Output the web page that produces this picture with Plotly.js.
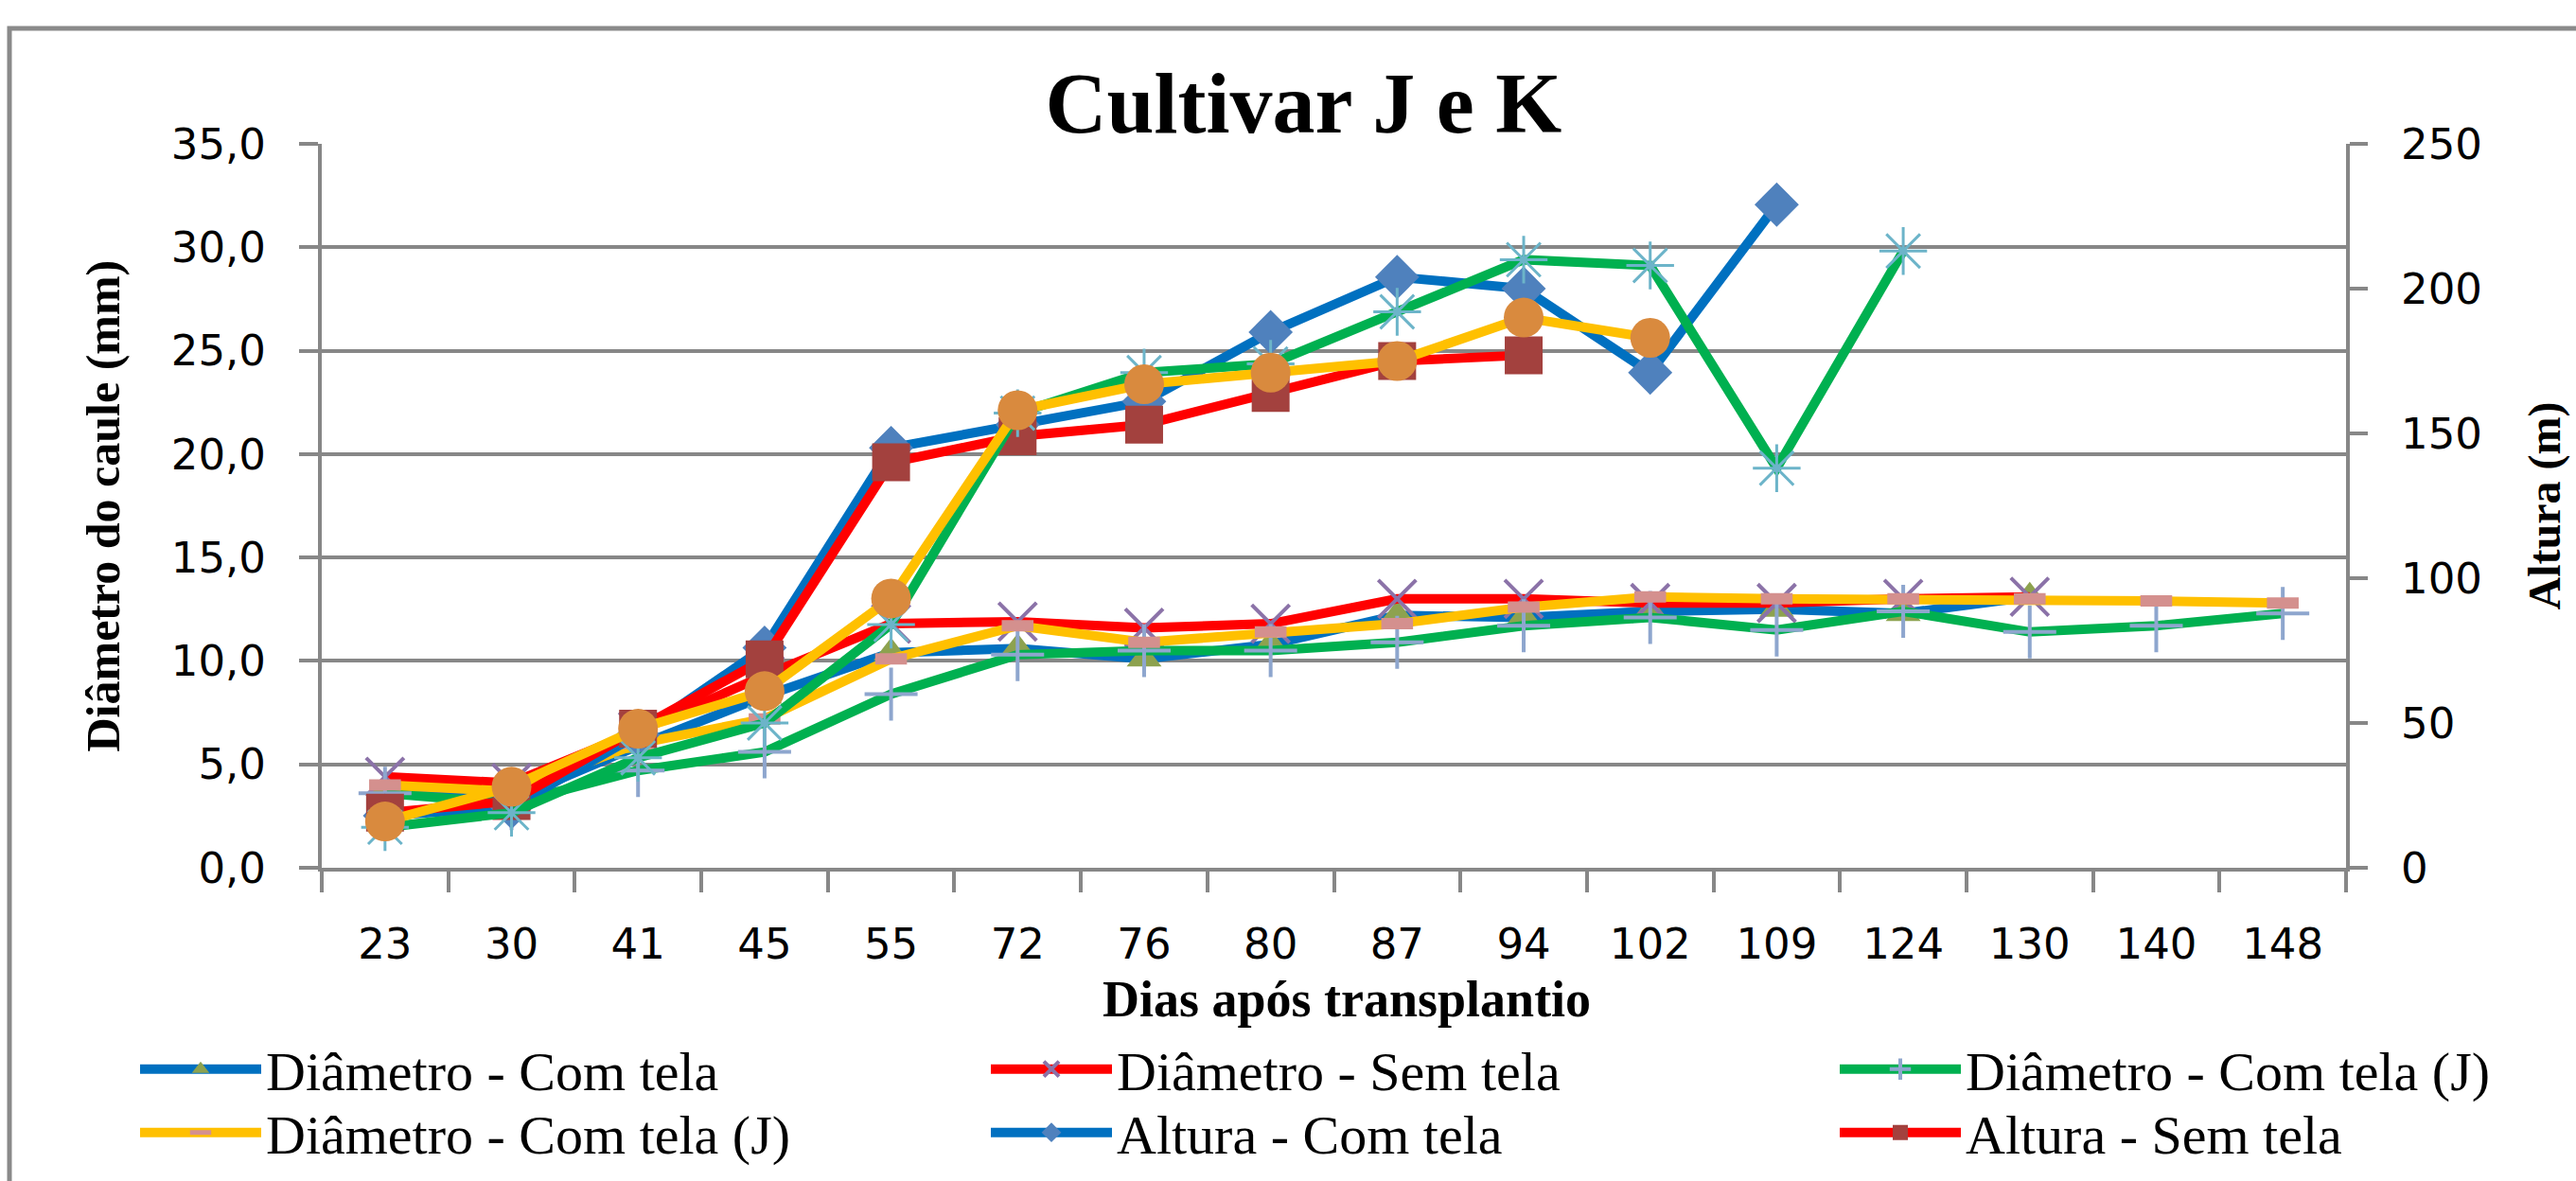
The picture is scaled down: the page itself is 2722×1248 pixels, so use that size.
<!DOCTYPE html>
<html><head><meta charset="utf-8">
<script src="https://cdn.plot.ly/plotly-3.0.1.min.js"></script>
<style>html,body{margin:0;padding:0;background:#fff}#chart{width:2722px;height:1248px}</style>
</head><body><div id="chart"></div>
<script>
// Categories (days after transplanting)
const dias = ['23','30','41','45','55','72','76','80','87','94','102','109','124','130','140','148'];
// Stem diameter (mm) - left axis
const diamComTela   = [3.8,3.3,5.9,8.3,10.4,10.6,10.1,10.8,12.2,12.1,12.4,12.5,12.3,13.1,null,null];
const diamSemTela   = [4.4,4.1,6.6,9.3,11.8,11.9,11.6,11.8,13.0,13.0,12.8,12.8,13.0,13.1,null,null];
const diamComTelaJ  = [3.6,3.1,4.7,5.6,8.4,10.3,10.5,10.5,10.9,11.7,12.1,11.5,12.4,11.4,11.7,12.3];
const diamComTelaJ2 = [4.0,3.7,6.0,7.2,10.1,11.7,10.9,11.4,11.8,12.6,13.1,13.0,13.0,13.0,12.9,12.8];
// Height - right axis
const alturaComTela  = [18,21,46,76,145,153,161,185,204,200,171,229,null,null,null,null];
const alturaSemTela  = [19,23,48,72,140,149,153,164,175,177,null,null,null,null,null,null];
const alturaComTelaJ = [14,19,38,50,84,157,171,174,192,210,208,138,213,null,null,null];
const alturaSemTelaJ = [16,28,48,61,93,158,167,171,175,190,183,null,null,null,null,null];

const legNames = ['Diâmetro - Com tela','Diâmetro - Sem tela','Diâmetro - Com tela (J)','Diâmetro - Com tela (J)','Altura - Com tela','Altura - Sem tela'];
const chartTitle = 'Cultivar J e K';
const xTitle = 'Dias após transplantio';
const yTitle = 'Diâmetro do caule (mm)';
const y2Title = 'Altura (m)';

const LW = 10;
function tr(y, name, lineColor, marker, yaxis, legend, showlegend){
  return {x: dias, y: y, name: name, type: 'scatter', mode: 'lines+markers',
    line: {color: lineColor, width: LW}, marker: marker, yaxis: yaxis,
    legend: legend, showlegend: showlegend, connectgaps: false, cliponaxis: false};
}
const traces = [
  tr(diamComTela, legNames[0], '#0070C0', {symbol:'triangle-up', size:32, color:'#8DA24F'}, 'y', 'legend', true),
  tr(diamSemTela, legNames[1], '#FF0000', {symbol:'x-thin-open', size:40, color:'#8B72A8', line:{color:'#8B72A8', width:4}}, 'y', 'legend2', true),
  tr(diamComTelaJ, legNames[2], '#00B050', {symbol:'cross-thin-open', size:40, color:'#8EA6CE', line:{color:'#8EA6CE', width:4}}, 'y', 'legend3', true),
  tr(diamComTelaJ2, legNames[3], '#FFC000', {symbol:'line-ew-open', size:24, color:'#D4908E', line:{color:'#D4908E', width:12}}, 'y', 'legend4', true),
  tr(alturaComTela, legNames[4], '#0070C0', {symbol:'diamond', size:36, color:'#4F81BD'}, 'y2', 'legend5', true),
  tr(alturaSemTela, legNames[5], '#FF0000', {symbol:'square', size:40, color:'#A3413E'}, 'y2', 'legend6', true),
  tr(alturaComTelaJ, 'Altura - Com tela (J)', '#00B050', {symbol:'asterisk-open', size:42, color:'#6CB4C9', line:{color:'#6CB4C9', width:3}}, 'y2', 'legend', false),
  tr(alturaSemTelaJ, 'Altura - Sem tela (J)', '#FFC000', {symbol:'circle', size:42, color:'#D98A3E'}, 'y2', 'legend', false)
];

const serif = 'Liberation Serif, Times New Roman, serif';
const legFont = {family:serif, size:58, color:'#000'};
function leg(x, y){
  return {xref:'container', yref:'container', x:x, y:y, xanchor:'left', yanchor:'middle',
    orientation:'v', font:legFont, bgcolor:'rgba(0,0,0,0)', borderwidth:0, itemwidth:128};
}
const row1 = 1 - 1130/1248, row2 = 1 - 1197/1248;
const c1 = 143/2722, c2 = 1042/2722, c3 = 1939/2722;

const gridC = '#878787';
const tickFont = {family:'DejaVu Sans, Verdana, sans-serif', size:45, color:'#000'};

const layout = {
  width: 2722, height: 1248,
  paper_bgcolor:'#ffffff', plot_bgcolor:'#ffffff',
  separators: ',.',
  margin: {l:340, r:243, t:152, b:331, pad:0, autoexpand:false},
  title: {text:'<b>'+chartTitle+'</b>', font:{family:serif, size:90, color:'#000'},
          xref:'container', yref:'container', x:0.506, y:1-108/1248, xanchor:'center', yanchor:'middle'},
  xaxis: {type:'category', tickson:'boundaries', ticks:'outside', ticklen:22, tickwidth:4, tickcolor:gridC,
          showline:true, linecolor:gridC, linewidth:4, showgrid:false, zeroline:false,
          tickfont:tickFont, tickangle:0, range:[-0.5,15.5], automargin:false, ticklabelstandoff:38},
  yaxis: {range:[0,35], dtick:5, tick0:0, tickformat:'.1f', showgrid:true, gridcolor:gridC, gridwidth:4,
          showline:true, linecolor:gridC, linewidth:4, ticks:'outside', ticklen:20, tickwidth:4, tickcolor:gridC,
          zeroline:false, tickfont:tickFont, automargin:false, ticklabelstandoff:26},
  yaxis2: {range:[0,250], dtick:50, tick0:0, overlaying:'y', side:'right', showgrid:false,
          showline:true, linecolor:gridC, linewidth:4, ticks:'outside', ticklen:19, tickwidth:4, tickcolor:gridC,
          zeroline:false, tickfont:tickFont, automargin:false, ticklabelstandoff:26},
  legend: leg(c1,row1), legend2: leg(c2,row1), legend3: leg(c3,row1),
  legend4: leg(c1,row2), legend5: leg(c2,row2), legend6: leg(c3,row2),
  annotations: [
    {text:'<b>'+xTitle+'</b>', xref:'paper', yref:'paper', x:(1423-340)/2139, y:(917-1056)/765,
     xanchor:'center', yanchor:'middle', showarrow:false, font:{family:serif, size:54, color:'#000'}},
    {text:'<b>'+yTitle+'</b>', xref:'paper', yref:'paper', x:(108-340)/2139, y:0.5, textangle:-90,
     xanchor:'center', yanchor:'middle', showarrow:false, font:{family:serif, size:50, color:'#000'}},
    {text:'<b>'+y2Title+'</b>', xref:'paper', yref:'paper', x:(2688-340)/2139, y:0.5, textangle:-90,
     xanchor:'center', yanchor:'middle', showarrow:false, font:{family:serif, size:48, color:'#000'}}
  ],
  shapes: [
    {type:'rect', xref:'paper', yref:'paper', x0:(10-340)/2139, x1:1.2, y0:-0.5, y1:(917-30)/765,
     line:{color:'#8A8A8A', width:5}, fillcolor:'rgba(0,0,0,0)', layer:'below'}
  ],
  showlegend: true
};
Plotly.newPlot('chart', traces, layout, {displayModeBar:false, staticPlot:true});
</script></body></html>
